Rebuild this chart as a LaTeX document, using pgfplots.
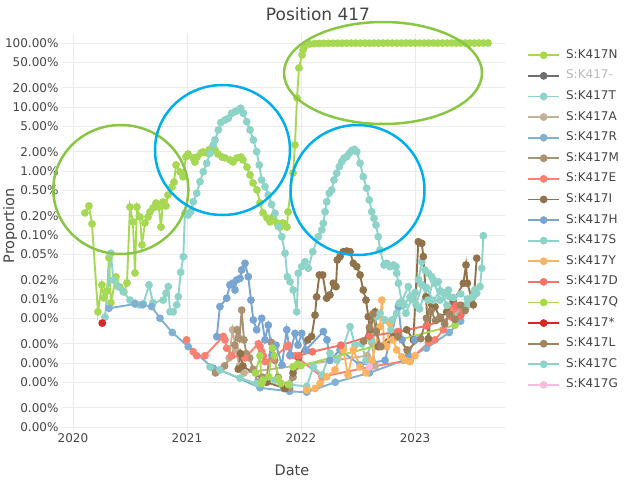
\documentclass[border=0pt]{standalone}
\usepackage{pgfplots}
\pgfplotsset{compat=1.18}
\usepackage{fontspec}
\setmainfont{DejaVu Sans}
\definecolor{cN}{RGB}{166,216,84}
\definecolor{cDash}{RGB}{110,110,110}
\definecolor{cT}{RGB}{141,211,199}
\definecolor{cA}{RGB}{196,176,148}
\definecolor{cR}{RGB}{128,177,211}
\definecolor{cM}{RGB}{170,146,115}
\definecolor{cE}{RGB}{251,128,114}
\definecolor{cI}{RGB}{145,115,75}
\definecolor{cH}{RGB}{120,165,210}
\definecolor{cS}{RGB}{141,211,199}
\definecolor{cY}{RGB}{253,180,98}
\definecolor{cD}{RGB}{246,115,100}
\definecolor{cQ}{RGB}{166,216,84}
\definecolor{cStar}{RGB}{215,40,40}
\definecolor{cL}{RGB}{160,132,95}
\definecolor{cC}{RGB}{141,211,199}
\definecolor{cG}{RGB}{247,190,220}
\definecolor{gridc}{RGB}{235,235,235}
\definecolor{labc}{RGB}{68,68,68}
\definecolor{circG}{RGB}{137,198,68}
\definecolor{circB}{RGB}{0,174,239}
\begin{document}
\begin{tikzpicture}
\useasboundingbox (0,0) rectangle (626pt,-482pt);
\begin{axis}[
  at={(62pt,-432pt)}, anchor=south west, scale only axis,
  width=443pt, height=399pt,
  xmin=2019.904, xmax=2023.789,
  ymode=log, ymin=8.35e-5, ymax=143,
  xtick={2020,2021,2022,2023}, xticklabels={2020,2021,2022,2023},
  ytick={100,50,20,10,5,2,1,0.5,0.2,0.1,0.05,0.02,0.01,0.005,0.002,0.001,0.0005,0.0002,0.0001},
  yticklabels={100.00\%,50.00\%,20.00\%,10.00\%,5.00\%,2.00\%,1.00\%,0.50\%,0.20\%,0.10\%,0.05\%,0.02\%,0.01\%,0.00\%,0.00\%,0.00\%,0.00\%,0.00\%,0.00\%},
  grid=major, major grid style={draw=gridc, line width=0.8pt},
  axis line style={draw=none}, tick style={draw=none},
  ticklabel style={font=\fontsize{12}{14}\selectfont, text=labc},
  xticklabel style={yshift=1.5pt},
  every axis plot/.append style={line width=1.9pt, mark=*, mark size=2.9pt, mark options={solid}},
  legend style={at={(1.0497,0.959)}, anchor=north west, draw=none, fill=none,
    font=\fontsize{12}{14}\selectfont, text=labc, inner sep=0pt, row sep=9.2pt, column sep=6pt,
    nodes={inner sep=0pt, text height=8.8pt, text depth=2.6pt}},
  legend cell align=left,
  legend image code/.code={\draw[mark repeat=2,mark phase=2,#1] plot coordinates {(0pt,0pt) (15.5pt,0pt) (31pt,0pt)};},
]
% S:K417N
\addplot[color=cN] coordinates {
(2020.105,0.221)(2020.140,0.284)(2020.167,0.149)(2020.219,0.0063)(2020.254,0.0166)(2020.272,0.0104)(2020.298,0.0133)(2020.316,0.044)(2020.333,0.0087)(2020.377,0.0221)(2020.412,0.0154)(2020.447,0.0129)(2020.474,0.0178)(2020.500,0.274)(2020.526,0.160)(2020.544,0.0255)(2020.561,0.274)(2020.588,0.191)(2020.605,0.070)(2020.632,0.154)(2020.658,0.191)(2020.675,0.229)(2020.702,0.264)(2020.728,0.316)(2020.754,0.274)(2020.772,0.133)(2020.789,0.328)(2020.816,0.284)(2020.833,0.42)(2020.868,0.56)(2020.886,0.67)(2020.904,1.24)(2020.939,0.965)(2020.965,0.81)(2020.991,1.67)(2021.009,1.84)(2021.053,1.60)(2021.070,1.38)(2021.088,1.65)(2021.123,1.91)(2021.140,1.98)(2021.175,1.91)(2021.193,2.13)(2021.228,2.4)(2021.246,2.13)(2021.272,1.84)(2021.307,1.65)(2021.333,1.60)(2021.377,1.49)(2021.404,1.38)(2021.439,1.60)(2021.474,1.65)(2021.491,1.49)(2021.526,1.15)(2021.553,0.866)(2021.579,0.649)(2021.614,0.505)(2021.640,0.316)(2021.667,0.221)(2021.702,0.184)(2021.728,0.160)(2021.754,0.191)(2021.789,0.154)(2021.816,0.133)(2021.842,0.154)(2021.877,0.133)(2021.886,0.229)(2021.930,0.93)(2021.947,2.55)(2021.965,13.8)(2021.982,40.6)(2022.009,64.9)(2022.018,77.8)(2022.035,89.8)(2022.079,96.4)
(2022.12,97.6)(2022.16,98.2)(2022.20,98.6)(2022.24,98.9)(2022.28,99.0)(2022.32,99.1)(2022.36,99.0)(2022.40,99.2)(2022.44,99.3)(2022.48,99.2)(2022.52,99.3)(2022.56,99.4)(2022.60,99.3)(2022.64,99.4)(2022.68,99.5)(2022.72,99.4)(2022.76,99.5)(2022.80,99.5)(2022.84,99.4)(2022.88,99.5)(2022.92,99.6)(2022.96,99.5)(2023.00,99.6)(2023.04,99.5)(2023.08,99.6)(2023.12,99.6)(2023.16,99.5)(2023.20,99.6)(2023.24,99.6)(2023.28,99.5)(2023.32,99.6)(2023.36,99.6)(2023.40,99.5)(2023.44,99.6)(2023.48,99.6)(2023.52,99.5)(2023.56,99.6)(2023.60,99.6)(2023.64,99.7)
};
\addlegendentry{S:K417N}
\addlegendimage{color=cDash, line width=1.9pt, mark=*, mark size=2.9pt}
\addlegendentry{\textcolor{gray!55}{S:K417-}}
% S:K417T
\addplot[color=cT] coordinates {
(2020.281,0.0052)(2020.333,0.0518)(2020.354,0.0198)(2020.397,0.0156)(2020.441,0.0130)(2020.5,0.0096)(2020.544,0.0086)(2020.582,0.0081)(2020.617,0.0084)(2020.667,0.0166)(2020.702,0.0087)(2020.792,0.0096)(2020.816,0.0123)(2020.836,0.0156)(2020.851,0.0063)(2020.880,0.0063)(2020.910,0.0081)(2020.924,0.0109)(2020.945,0.0261)(2020.968,0.0458)(2020.982,0.218)(2021.011,0.205)(2021.032,0.231)(2021.055,0.331)(2021.085,0.449)(2021.114,0.681)(2021.143,0.975)(2021.173,1.32)(2021.202,1.89)(2021.231,2.55)(2021.246,3.05)(2021.275,4.37)(2021.296,5.69)(2021.333,6.26)(2021.362,6.66)(2021.392,7.97)(2021.421,8.45)(2021.450,8.98)(2021.471,9.55)(2021.494,7.97)(2021.524,5.89)(2021.553,4.37)(2021.582,3.05)(2021.611,2.0)(2021.634,1.24)(2021.655,0.723)(2021.684,0.569)(2021.713,0.422)(2021.742,0.30)(2021.772,0.218)(2021.801,0.135)(2021.831,0.094)(2021.860,0.0518)(2021.880,0.0223)(2021.904,0.0186)(2021.932,0.0138)(2021.962,0.0063)(2021.976,0.0252)(2022.006,0.032)(2022.035,0.0383)(2022.064,0.0302)(2022.103,0.0548)(2022.152,0.094)(2022.182,0.120)(2022.196,0.152)(2022.211,0.231)(2022.225,0.331)(2022.248,0.449)(2022.269,0.505)(2022.289,0.723)(2022.313,0.92)(2022.336,1.17)(2022.357,1.40)(2022.377,1.58)(2022.401,1.67)(2022.424,1.89)(2022.445,2.08)(2022.468,2.18)(2022.489,2.0)(2022.518,1.32)(2022.546,0.814)(2022.576,0.537)(2022.599,0.352)(2022.620,0.231)(2022.640,0.182)(2022.658,0.143)(2022.678,0.094)(2022.693,0.0584)(2022.728,0.034)(2022.752,0.036)(2022.781,0.032)(2022.810,0.034)(2022.833,0.032)(2022.839,0.0252)(2022.854,0.0176)(2022.883,0.0091)(2022.941,0.0156)(2022.97,0.0098)(2023.0,0.0126)(2023.03,0.0200)(2023.059,0.0383)(2023.088,0.0284)(2023.117,0.0252)(2023.146,0.0223)(2023.175,0.0176)(2023.204,0.0186)(2023.234,0.0128)(2023.263,0.0123)(2023.292,0.0138)(2023.33,0.0098)(2023.366,0.0076)(2023.410,0.0060)(2023.45,0.0075)(2023.482,0.0091)(2023.511,0.0109)(2023.541,0.0123)(2023.570,0.0156)(2023.585,0.0302)(2023.599,0.0975)
};
\addlegendentry{S:K417T}
% S:K417A
\addplot[color=cA] coordinates {
(2021.37,0.0012)(2021.40,0.0033)(2021.43,0.0016)(2021.46,0.0009)(2021.50,0.0007)(2022.58,0.0013)(2022.62,0.0021)(2022.65,0.0009)
};
\addlegendentry{S:K417A}
% S:K417R
\addplot[color=cR] coordinates {
(2020.316,0.00716)(2020.544,0.00835)(2020.611,0.0081)(2020.690,0.0076)(2020.763,0.005)(2020.871,0.003)(2021.011,0.0018)(2021.231,0.00083)(2021.289,0.00078)(2021.640,0.00041)(2021.90,0.00036)(2022.05,0.00035)(2022.30,0.0005)(2022.60,0.0007)(2022.90,0.0011)(2023.10,0.0017)(2023.30,0.003)(2023.40,0.0045)
};
\addlegendentry{S:K417R}
% S:K417M
\addplot[color=cM] coordinates {
(2021.25,0.0007)(2021.33,0.0009)(2021.39,0.0013)(2021.42,0.0019)(2021.44,0.0033)(2021.46,0.0024)(2021.48,0.0067)(2021.50,0.0023)(2021.52,0.0014)(2021.55,0.0012)(2021.58,0.0008)(2021.62,0.0005)(2021.66,0.0006)(2021.70,0.0006)(2021.74,0.0021)(2021.77,0.0011)(2021.80,0.0006)(2021.85,0.0004)(2021.90,0.0004)(2021.93,0.0006)(2021.97,0.0009)
};
\addlegendentry{S:K417M}
% S:K417E
\addplot[color=cE] coordinates {
(2020.997,0.0023)(2021.055,0.0015)(2021.085,0.0013)(2021.158,0.0013)(2021.318,0.0026)(2021.333,0.0023)(2021.348,0.0017)(2021.392,0.0013)(2021.509,0.0012)(2021.626,0.002)(2021.640,0.0018)(2021.655,0.0015)(2021.670,0.0013)(2021.684,0.00105)(2021.757,0.0012)(2021.874,0.0018)(2021.889,0.0019)(2021.904,0.0013)(2021.947,0.0013)(2022.182,0.00061)(2022.605,0.00087)(2022.956,0.0011)(2023.117,0.0021)(2023.175,0.0023)(2023.248,0.0033)(2023.322,0.0076)(2023.351,0.0063)(2023.380,0.006)(2023.424,0.0066)
};
\addlegendentry{S:K417E}
% S:K417I
\addplot[color=cI] coordinates {
(2021.45,0.0008)(2021.47,0.0014)(2021.49,0.0009)(2021.70,0.0005)(2021.86,0.0004)(2021.89,0.00046)(2021.93,0.0007)(2021.98,0.0012)(2022.06,0.0023)(2022.093,0.0026)(2022.123,0.0056)(2022.137,0.0108)(2022.161,0.0237)(2022.190,0.0237)(2022.225,0.0103)(2022.254,0.0116)(2022.283,0.0176)(2022.307,0.0156)(2022.318,0.0407)(2022.342,0.046)(2022.371,0.0548)(2022.401,0.056)(2022.430,0.0548)(2022.459,0.036)(2022.489,0.032)(2022.518,0.0237)(2022.546,0.0138)(2022.570,0.0096)(2022.590,0.0053)(2022.605,0.0033)(2022.649,0.0063)(2022.678,0.0018)(2022.81,0.0029)(2022.927,0.0033)(2022.985,0.0023)(2023.029,0.0785)(2023.059,0.074)(2023.073,0.046)(2023.096,0.0108)(2023.117,0.0024)(2023.146,0.0081)(2023.175,0.0076)(2023.219,0.005)(2023.278,0.0063)(2023.336,0.0091)(2023.424,0.0176)(2023.447,0.034)(2023.459,0.0176)(2023.511,0.0081)(2023.541,0.0433)
};
\addlegendentry{S:K417I}
% S:K417H
\addplot[color=cH] coordinates {
(2021.261,0.00258)(2021.289,0.0076)(2021.348,0.0103)(2021.377,0.0166)(2021.401,0.0176)(2021.421,0.0138)(2021.436,0.0198)(2021.465,0.021)(2021.480,0.0284)(2021.509,0.036)(2021.538,0.0223)(2021.561,0.0096)(2021.582,0.0047)(2021.611,0.0033)(2021.655,0.005)(2021.684,0.0023)(2021.713,0.0039)(2021.746,0.00133)(2021.781,0.0019)(2021.833,0.00093)(2021.875,0.0033)(2021.904,0.00133)(2021.947,0.0029)(2021.974,0.0019)(2022.006,0.0029)(2022.044,0.0016)(2022.196,0.0031)(2022.228,0.0023)(2022.254,0.0011)(2022.342,0.0016)(2022.518,0.00093)(2022.737,0.0011)(2022.854,0.0076)(2022.886,0.0023)(2022.939,0.00133)(2023.0,0.0023)
};
\addlegendentry{S:K417H}
% S:K417S
\addplot[color=cS] coordinates {
(2021.202,0.00087)(2021.289,0.00078)(2021.465,0.00058)(2021.611,0.00048)(2021.772,0.00054)(2021.904,0.00046)(2022.05,0.00043)(2022.108,0.00087)(2022.184,0.00065)(2022.254,0.00142)(2022.316,0.00111)(2022.371,0.0018)(2022.430,0.0037)(2022.474,0.0019)(2022.532,0.002)(2022.570,0.0011)(2022.620,0.0023)(2022.664,0.0053)(2022.693,0.006)(2022.737,0.0047)(2022.789,0.0033)(2022.839,0.006)(2022.904,0.0081)(2022.956,0.0108)(2023.009,0.0081)(2023.061,0.0166)(2023.114,0.0096)(2023.161,0.0198)(2023.219,0.0096)(2023.307,0.0108)(2023.377,0.0056)(2023.447,0.0081)(2023.526,0.0138)
};
\addlegendentry{S:K417S}
% S:K417Y
\addplot[color=cY] coordinates {
(2022.05,0.00038)(2022.123,0.0004)(2022.167,0.00048)(2022.225,0.00061)(2022.298,0.00078)(2022.371,0.0016)(2022.412,0.00065)(2022.459,0.0016)(2022.518,0.00087)(2022.570,0.0007)(2022.623,0.0011)(2022.693,0.0037)(2022.708,0.0096)(2022.728,0.0019)(2022.752,0.0018)(2022.781,0.0042)(2022.807,0.0023)(2022.839,0.0016)(2022.883,0.00125)(2022.912,0.0011)(2022.956,0.00105)(2023.0,0.0013)
};
\addlegendentry{S:K417Y}
% S:K417D
\addplot[color=cD] coordinates {
(2021.98,0.0013)(2022.10,0.0015)(2022.35,0.0019)(2022.60,0.0026)(2022.85,0.0031)(2023.10,0.0038)(2023.32,0.0052)(2023.36,0.0079)(2023.40,0.0055)
};
\addlegendentry{S:K417D}
% S:K417Q
\addplot[color=cQ] coordinates {
(2021.60,0.0007)(2021.640,0.0013)(2021.655,0.00048)(2021.667,0.00054)(2021.717,0.00061)(2021.75,0.0017)(2021.767,0.0013)(2021.80,0.00057)(2021.825,0.00048)(2021.89,0.00046)(2021.93,0.00087)(2021.97,0.00096)(2022.0,0.00091)(2023.351,0.0039)
};
\addlegendentry{S:K417Q}
% S:K417*
\addplot[color=cStar] coordinates {(2020.257,0.0042)};
\addlegendentry{S:K417*}
% S:K417L
\addplot[color=cL] coordinates {
(2022.55,0.0022)(2022.60,0.0036)(2022.63,0.0058)(2022.66,0.0031)(2022.70,0.0018)(2022.85,0.0026)(2022.93,0.0016)(2023.05,0.0024)(2023.10,0.005)(2023.14,0.0065)(2023.18,0.0046)(2023.22,0.0052)(2023.26,0.0041)(2023.30,0.0058)(2023.35,0.0048)(2023.40,0.008)(2023.44,0.0066)
};
\addlegendentry{S:K417L}
% S:K417C
\addplot[color=cC] coordinates {
(2022.80,0.0047)(2022.86,0.0085)(2022.92,0.0060)(2022.98,0.0110)(2023.04,0.0070)(2023.10,0.0150)(2023.16,0.0095)(2023.22,0.0135)(2023.28,0.0080)(2023.34,0.0105)(2023.40,0.0120)(2023.46,0.0100)(2023.52,0.0135)
};
\addlegendentry{S:K417C}
% S:K417G
\addplot[color=cG] coordinates {(2022.6,0.00087)};
\addlegendentry{S:K417G}
\end{axis}
\node[font=\fontsize{17}{20}\selectfont, text=labc] at (318pt,-14pt) {Position 417};
\node[font=\fontsize{14.5}{16}\selectfont, text=labc] at (292pt,-470pt) {Date};
\node[font=\fontsize{14.5}{16}\selectfont, text=labc, rotate=90] at (10pt,-226pt) {Proportion};
\draw[circG, line width=2.5pt] (120.8pt,-189.5pt) ellipse [x radius=67.5pt, y radius=64.5pt];
\draw[circB, line width=2.5pt] (222.5pt,-150pt) ellipse [x radius=67.5pt, y radius=65pt];
\draw[circB, line width=2.5pt] (357.5pt,-190pt) ellipse [x radius=67pt, y radius=65pt];
\draw[circG, line width=2.5pt] (383pt,-73pt) ellipse [x radius=99pt, y radius=51pt];
\end{tikzpicture}
\end{document}
